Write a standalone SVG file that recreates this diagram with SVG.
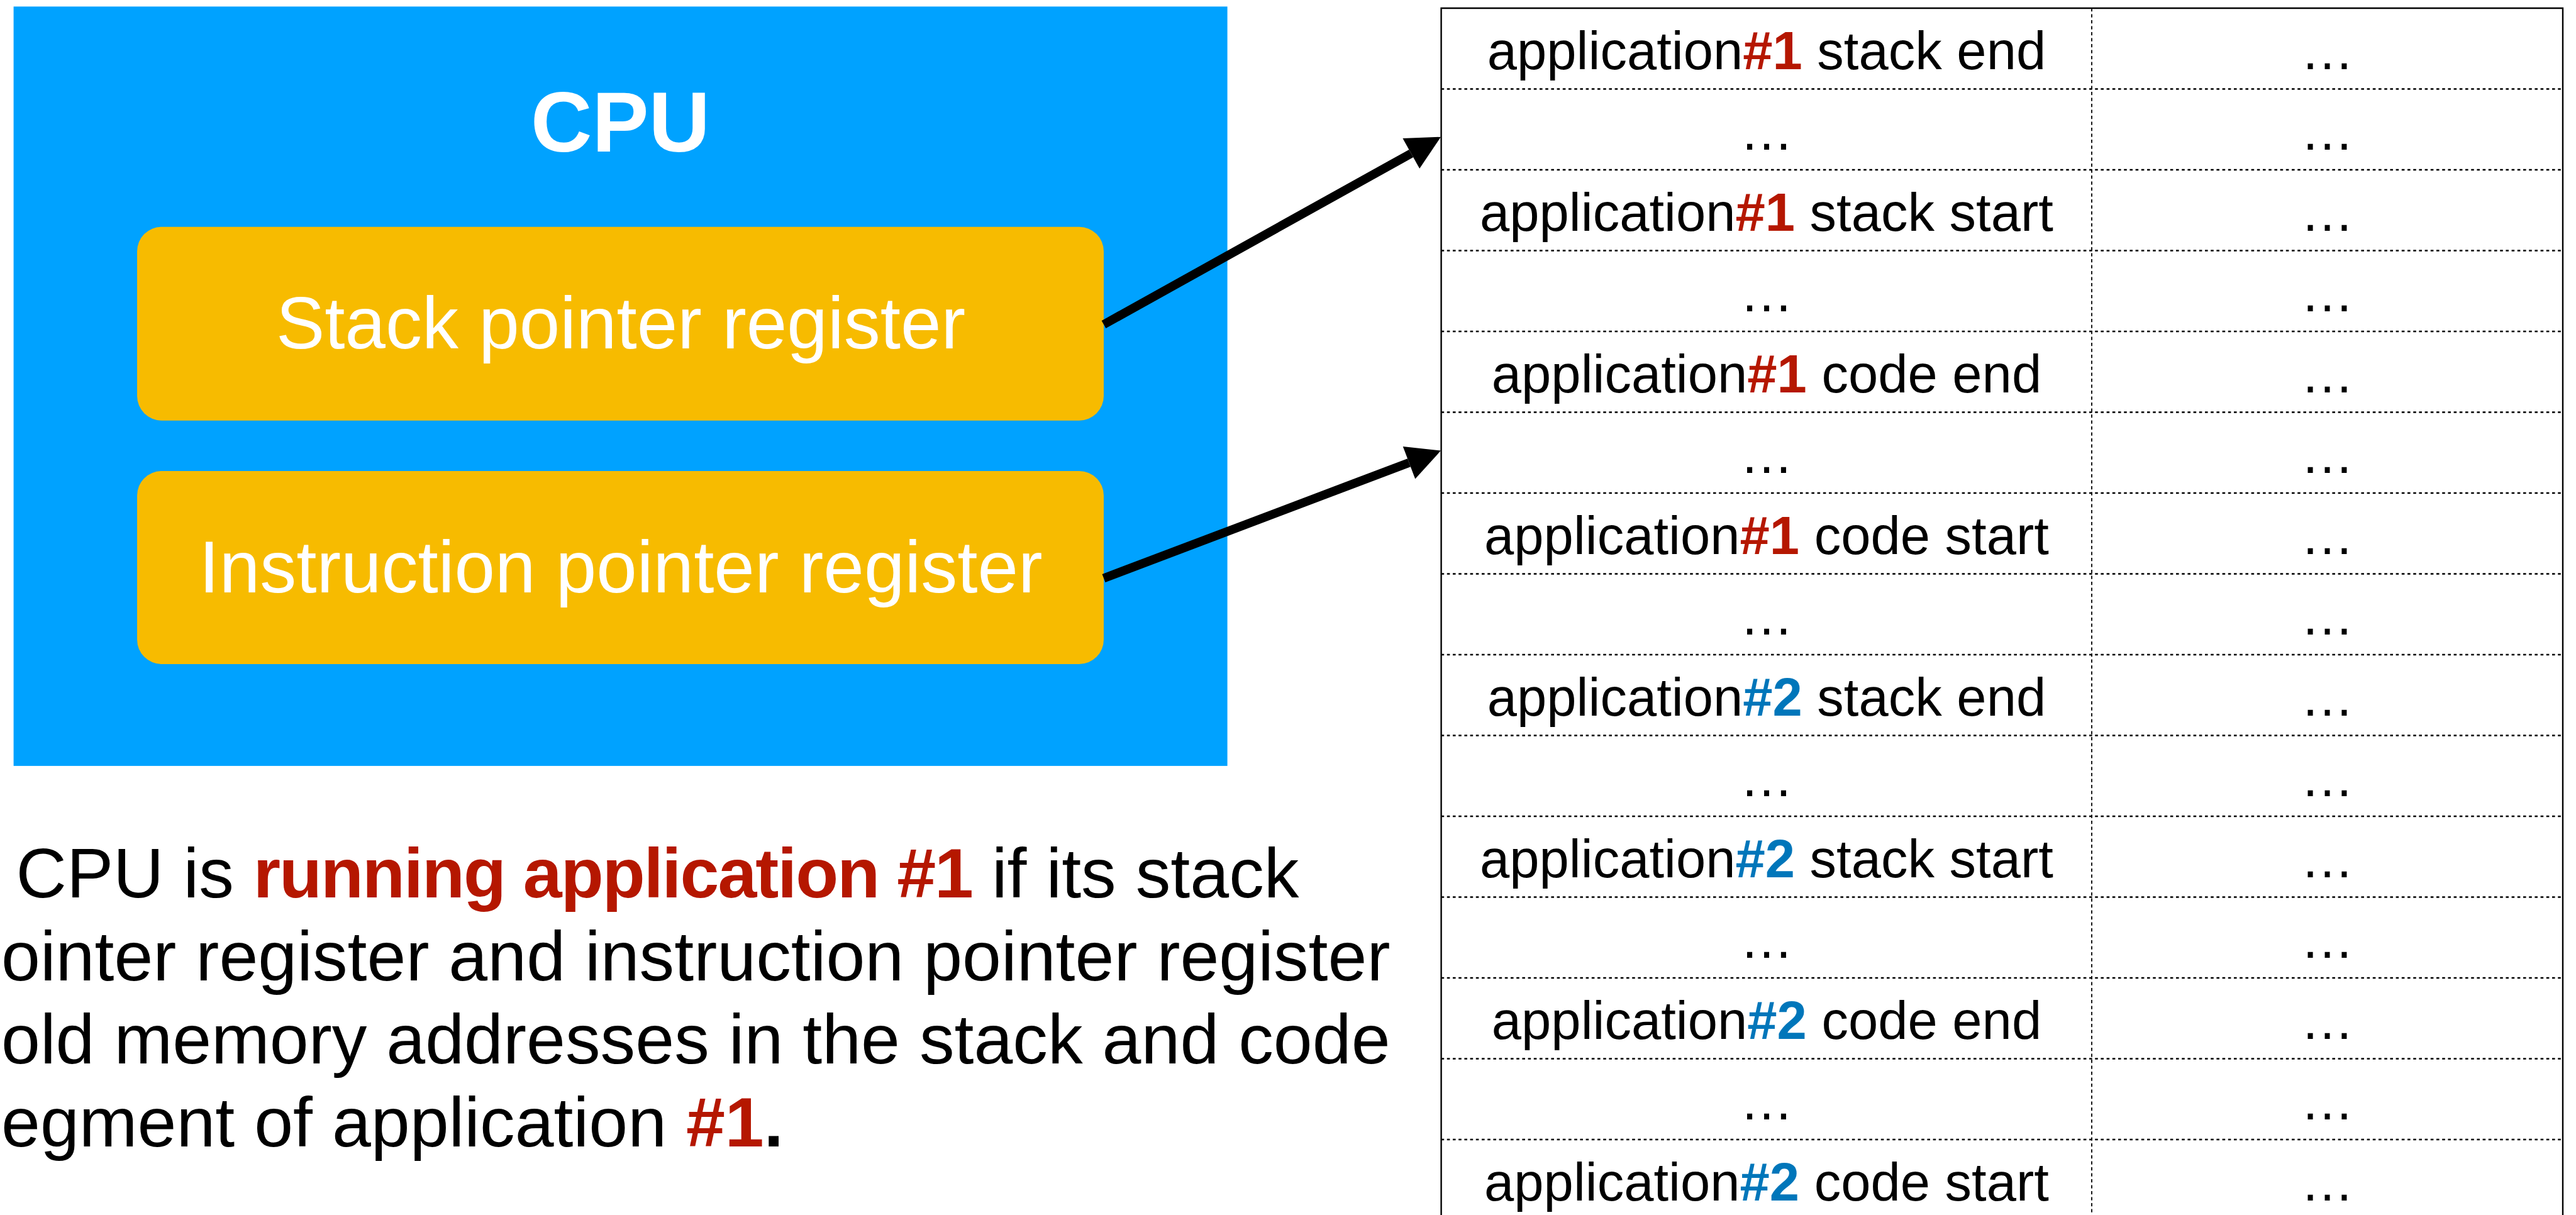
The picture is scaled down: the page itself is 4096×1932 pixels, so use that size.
<svg xmlns="http://www.w3.org/2000/svg" width="4096" height="1932" viewBox="0 0 4096 1932">
<defs>
<style>
text{font-family:"Liberation Sans",Arial,Helvetica,sans-serif;}
.w{fill:#FFFFFF;}
.reg{fill:#F7BB00;}
.cell{font-size:85px;fill:#000;text-anchor:middle;}
.b{font-weight:bold;}
.r{fill:#B51700;font-weight:bold;}
.bl{fill:#0076BA;font-weight:bold;}
.para{font-size:111.3px;fill:#000;}
.tight{letter-spacing:-2px;}
.sep{stroke:#000;stroke-width:2.3;stroke-dasharray:4.6 4.6;fill:none;}
.div{stroke:#000;stroke-width:1.8;stroke-dasharray:5.2 4.3;fill:none;}
.border{stroke:#000;stroke-width:2.4;fill:none;}
.conn{stroke:#000;stroke-width:14;fill:none;marker-end:url(#ah);}
</style>
<marker id="ah" markerUnits="userSpaceOnUse" viewBox="0 -28 55 56" markerWidth="55" markerHeight="56" refX="0" refY="0" orient="auto" overflow="visible">
<path d="M0,-27.5 L54,0 L0,27.5 Z" fill="#000"/>
</marker>
</defs>
<rect x="0" y="0" width="4096" height="1932" fill="#FFFFFF"/>

<g id="cpu">
<rect x="21.6" y="10.4" width="1930" height="1207.5" fill="#00A2FF"/>
<text x="986.5" y="241.3" class="w b" font-size="135" text-anchor="middle">CPU</text>
</g>

<g id="stack-pointer-register">
<rect class="reg" x="218" y="360.7" width="1537" height="308" rx="39" ry="39"/>
<text x="987" y="553.6" class="w" font-size="116" text-anchor="middle">Stack pointer register</text>
</g>

<g id="instruction-pointer-register">
<rect class="reg" x="218" y="749" width="1537" height="307" rx="39" ry="39"/>
<text x="987" y="942" class="w" font-size="116" text-anchor="middle">Instruction pointer register</text>
</g>

<g id="memory-table">
<g id="table-lines">
<line class="sep" x1="2291.6" y1="141.5" x2="4075" y2="141.5"/>
<line class="sep" x1="2291.6" y1="270" x2="4075" y2="270"/>
<line class="sep" x1="2291.6" y1="398.5" x2="4075" y2="398.5"/>
<line class="sep" x1="2291.6" y1="527" x2="4075" y2="527"/>
<line class="sep" x1="2291.6" y1="655.5" x2="4075" y2="655.5"/>
<line class="sep" x1="2291.6" y1="784" x2="4075" y2="784"/>
<line class="sep" x1="2291.6" y1="912.5" x2="4075" y2="912.5"/>
<line class="sep" x1="2291.6" y1="1041" x2="4075" y2="1041"/>
<line class="sep" x1="2291.6" y1="1169.5" x2="4075" y2="1169.5"/>
<line class="sep" x1="2291.6" y1="1298" x2="4075" y2="1298"/>
<line class="sep" x1="2291.6" y1="1426.5" x2="4075" y2="1426.5"/>
<line class="sep" x1="2291.6" y1="1555" x2="4075" y2="1555"/>
<line class="sep" x1="2291.6" y1="1683.5" x2="4075" y2="1683.5"/>
<line class="sep" x1="2291.6" y1="1812" x2="4075" y2="1812"/>
<line class="div" x1="3326" y1="13" x2="3326" y2="1932"/>
<path class="border" d="M2291.6,1932 L2291.6,13 L4075,13 L4075,1932"/>
</g>
<g id="row-1"><text class="cell" x="2809" y="109.6">application<tspan class="r">#1</tspan> stack end</text><text class="cell" x="3700.5" y="109.6">…</text></g>
<g id="row-2"><text class="cell" x="2809" y="238.1">…</text><text class="cell" x="3700.5" y="238.1">…</text></g>
<g id="row-3"><text class="cell" x="2809" y="366.6">application<tspan class="r">#1</tspan> stack start</text><text class="cell" x="3700.5" y="366.6">…</text></g>
<g id="row-4"><text class="cell" x="2809" y="495.1">…</text><text class="cell" x="3700.5" y="495.1">…</text></g>
<g id="row-5"><text class="cell" x="2809" y="623.6">application<tspan class="r">#1</tspan> code end</text><text class="cell" x="3700.5" y="623.6">…</text></g>
<g id="row-6"><text class="cell" x="2809" y="752.1">…</text><text class="cell" x="3700.5" y="752.1">…</text></g>
<g id="row-7"><text class="cell" x="2809" y="880.6">application<tspan class="r">#1</tspan> code start</text><text class="cell" x="3700.5" y="880.6">…</text></g>
<g id="row-8"><text class="cell" x="2809" y="1009.1">…</text><text class="cell" x="3700.5" y="1009.1">…</text></g>
<g id="row-9"><text class="cell" x="2809" y="1137.6">application<tspan class="bl">#2</tspan> stack end</text><text class="cell" x="3700.5" y="1137.6">…</text></g>
<g id="row-10"><text class="cell" x="2809" y="1266.1">…</text><text class="cell" x="3700.5" y="1266.1">…</text></g>
<g id="row-11"><text class="cell" x="2809" y="1394.6">application<tspan class="bl">#2</tspan> stack start</text><text class="cell" x="3700.5" y="1394.6">…</text></g>
<g id="row-12"><text class="cell" x="2809" y="1523.1">…</text><text class="cell" x="3700.5" y="1523.1">…</text></g>
<g id="row-13"><text class="cell" x="2809" y="1651.6">application<tspan class="bl">#2</tspan> code end</text><text class="cell" x="3700.5" y="1651.6">…</text></g>
<g id="row-14"><text class="cell" x="2809" y="1780.1">…</text><text class="cell" x="3700.5" y="1780.1">…</text></g>
<g id="row-15"><text class="cell" x="2809" y="1908.6">application<tspan class="bl">#2</tspan> code start</text><text class="cell" x="3700.5" y="1908.6">…</text></g>
</g>

<g id="connectors">
<line class="conn" x1="1755" y1="516" x2="2243.8" y2="244"/>
<line class="conn" x1="1755" y1="919.5" x2="2240.5" y2="735.7"/>
</g>

<g id="caption">
<text class="para" x="25.5" y="1426.8">CPU is <tspan class="r tight">running application #1</tspan> if its stack</text>
<text class="para" x="2" y="1558.7">ointer register and instruction pointer register</text>
<text class="para" x="2" y="1690.8">old memory addresses in the stack and code</text>
<text class="para" x="2" y="1822.6">egment of application <tspan class="r">#1</tspan><tspan class="b">.</tspan></text>
</g>
</svg>
